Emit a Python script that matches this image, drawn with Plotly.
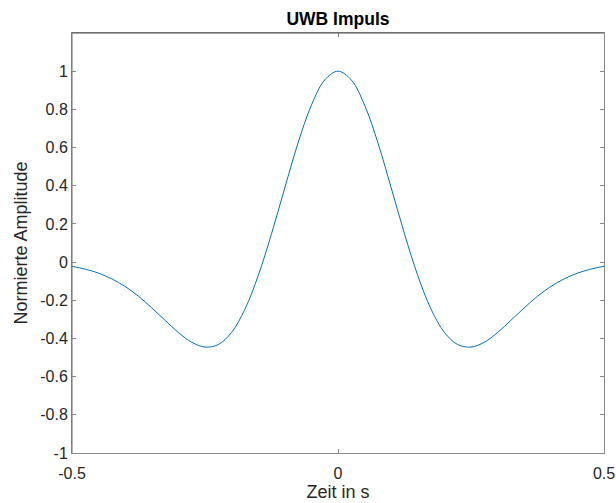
import plotly.graph_objects as go

# Sample times (s) and normalized amplitude of the UWB pulse
t = [-0.5, -0.475, -0.45, -0.425, -0.4, -0.375, -0.35, -0.325, -0.3, -0.275,
     -0.25, -0.225, -0.2, -0.175, -0.15, -0.125, -0.1, -0.075, -0.05, -0.025,
     0.0, 0.025, 0.05, 0.075, 0.1, 0.125, 0.15, 0.175, 0.2, 0.225,
     0.25, 0.275, 0.3, 0.325, 0.35, 0.375, 0.4, 0.425, 0.45, 0.475, 0.5]
amplitude = [-0.022, -0.037, -0.058, -0.088, -0.128, -0.179, -0.240, -0.305, -0.369, -0.420,
             -0.445, -0.432, -0.368, -0.247, -0.071, 0.148, 0.389, 0.625, 0.822, 0.954,
             1.0, 0.954, 0.822, 0.625, 0.389, 0.148, -0.071, -0.247, -0.368, -0.432,
             -0.445, -0.420, -0.369, -0.305, -0.240, -0.179, -0.128, -0.088, -0.058, -0.037, -0.022]

x_ticks = [-0.5, 0, 0.5]
y_ticks = [-1, -0.8, -0.6, -0.4, -0.2, 0, 0.2, 0.4, 0.6, 0.8, 1]

font_family = "Liberation Sans, Arial, Helvetica, sans-serif"
axis_color = "#8a8a8a"
text_color = "#262626"

fig = go.Figure()
fig.add_trace(go.Scatter(
    x=t, y=amplitude, mode="lines",
    line=dict(color="#0072BD", width=1, shape="spline", smoothing=1.0),
    hoverinfo="skip", showlegend=False,
))

fig.update_layout(
    width=616, height=503,
    margin=dict(l=72, r=12, t=33, b=50),
    paper_bgcolor="white", plot_bgcolor="white",
    font=dict(family=font_family, size=16, color=text_color),
    title=dict(text="<b>UWB Impuls</b>", x=0.5 + (72 - 12) / 2 / 616, xanchor="center",
               y=1 - 19 / 503, yanchor="middle",
               font=dict(size=17.5, color="#000000")),
)

fig.update_xaxes(
    range=[-0.5, 0.5], tickvals=x_ticks, ticktext=["-0.5", "0", "0.5"],
    ticks="inside", ticklen=4, tickcolor=axis_color, tickwidth=1,
    ticklabelstandoff=6,
    showline=True, linecolor=axis_color, linewidth=1, mirror="allticks",
    showgrid=False, zeroline=False, automargin=False,
    title=dict(text="Zeit in s", standoff=3, font=dict(size=18)),
    tickfont=dict(size=16),
)
fig.update_yaxes(
    range=[-1, 1.2], tickvals=y_ticks,
    ticktext=[f"{v:g}" for v in y_ticks],
    ticks="inside", ticklen=4, tickcolor=axis_color, tickwidth=1,
    showline=True, linecolor=axis_color, linewidth=1, mirror="allticks",
    showgrid=False, zeroline=False, automargin=False,
    title=dict(text="Normierte Amplitude", standoff=7, font=dict(size=18)),
    tickfont=dict(size=16),
)

# darker top and left frame edges
fig.add_shape(type="line", xref="paper", yref="paper", x0=0, x1=1, y0=1, y1=1,
              line=dict(color="#505050", width=1))
fig.add_shape(type="line", xref="paper", yref="paper", x0=0, x1=0, y0=0, y1=1,
              line=dict(color="#707070", width=1))

fig.write_html("out.html")
